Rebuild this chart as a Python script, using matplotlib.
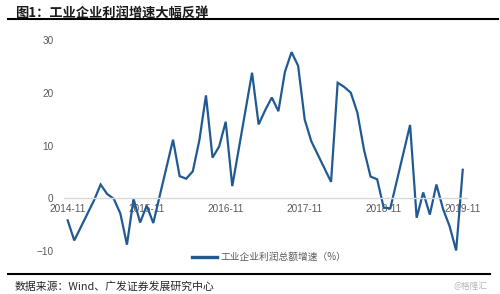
import matplotlib
matplotlib.use("Agg")
import matplotlib.pyplot as plt
from matplotlib.lines import Line2D

# ---- data ----
months = ['2014-11', '2014-12', '2015-03', '2015-04', '2015-05', '2015-06', '2015-07',
          '2015-08', '2015-09', '2015-10', '2015-11', '2015-12', '2016-03', '2016-04',
          '2016-05', '2016-06', '2016-07', '2016-08', '2016-09', '2016-10', '2016-11',
          '2016-12', '2017-03', '2017-04', '2017-05', '2017-06', '2017-07', '2017-08',
          '2017-09', '2017-10', '2017-11', '2017-12', '2018-03', '2018-04', '2018-05',
          '2018-06', '2018-07', '2018-08', '2018-09', '2018-10', '2018-11', '2018-12',
          '2019-03', '2019-04', '2019-05', '2019-06', '2019-07', '2019-08', '2019-09',
          '2019-10', '2019-11']
profit_growth = [-4.2, -8.0, -0.4, 2.6, 0.8, -0.1, -2.9,
                 -8.8, -0.1, -4.6, -1.4, -4.7, 11.1, 4.2,
                 3.7, 5.1, 11.0, 19.5, 7.7, 9.8, 14.5,
                 2.3, 23.8, 14.0, 16.7, 19.1, 16.5, 24.0,
                 27.7, 25.1, 14.9, 10.8, 3.1, 21.9, 21.1,
                 20.0, 16.2, 9.2, 4.1, 3.6, -1.8, -1.9,
                 13.9, -3.7, 1.1, -3.1, 2.6, -2.0, -5.3,
                 -9.9, 5.4]
x_tick_labels = ['2014-11', '2015-11', '2016-11', '2017-11', '2018-11', '2019-11']
y_ticks = [-10, 0, 10, 20, 30]

title = '图1：工业企业利润增速大幅反弹'
legend_label = '工业企业利润总额增速（%）'
source = '数据来源：Wind、广发证券发展研究中心'
watermark = '@格隆汇'

CJK = ['Noto Sans CJK SC', 'Liberation Sans', 'DejaVu Sans']
plt.rcParams['font.family'] = ['Liberation Sans', 'Noto Sans CJK SC', 'DejaVu Sans']


def month_index(s):
    y, m = s.split('-')
    return (int(y) - 2014) * 12 + int(m) - 11


xs = [month_index(s) for s in months]
tick_pos = [month_index(s) for s in x_tick_labels]

LINE = '#215a92'
GRAY = '#595959'

fig = plt.figure(figsize=(5.0, 2.94), dpi=100)
ax = fig.add_axes([64 / 500, 1 - 251 / 294, (466.7 - 64) / 500, (251 - 40) / 294])

ax.plot(xs, profit_growth, color=LINE, lw=1.6, clip_on=False, solid_joinstyle='miter')
ax.set_xlim(-0.56, 60.6)
ax.set_ylim(-10, 30)

for side in ['left', 'right', 'top']:
    ax.spines[side].set_visible(False)
ax.spines['bottom'].set_position(('data', 0))
ax.spines['bottom'].set_color('#d9d9d9')
ax.spines['bottom'].set_linewidth(1.0)

ax.set_xticks(tick_pos)
ax.set_xticklabels(x_tick_labels)
ax.set_yticks(y_ticks)
ax.tick_params(axis='x', length=0, pad=4.5, labelsize=7.2, labelcolor=GRAY)
ax.tick_params(axis='y', length=0, pad=7.5, labelsize=7.2, labelcolor=GRAY)

# legend
handle = Line2D([], [], color=LINE, lw=2.4)
fig.legend([handle], [legend_label], loc='center', bbox_to_anchor=(269 / 500, 1 - 257 / 294),
           frameon=False, handlelength=2.6, handletextpad=0.3,
           prop={'family': CJK, 'size': 7}, labelcolor=GRAY)

# title, rules, source
fig.text(15 / 500, 1 - 12.5 / 294, title, family=CJK, fontsize=9.5, fontweight='bold',
         color='#1a1a1a', va='center', ha='left')
fig.add_artist(Line2D([8 / 500, 498 / 500], [1 - 18.5 / 294] * 2, color='black', lw=1.5))
fig.add_artist(Line2D([8 / 500, 490 / 500], [1 - 274 / 294] * 2, color='black', lw=1.5))
fig.text(15 / 500, 1 - 286.5 / 294, source, family=CJK, fontsize=7.8, color='#262626',
         va='center', ha='left')
fig.text(488 / 500, 1 - 286.5 / 294, watermark, family=CJK, fontsize=6.2, color='#b8b8b8',
         va='center', ha='right')

fig.savefig('out.png', dpi=100, facecolor='white')
